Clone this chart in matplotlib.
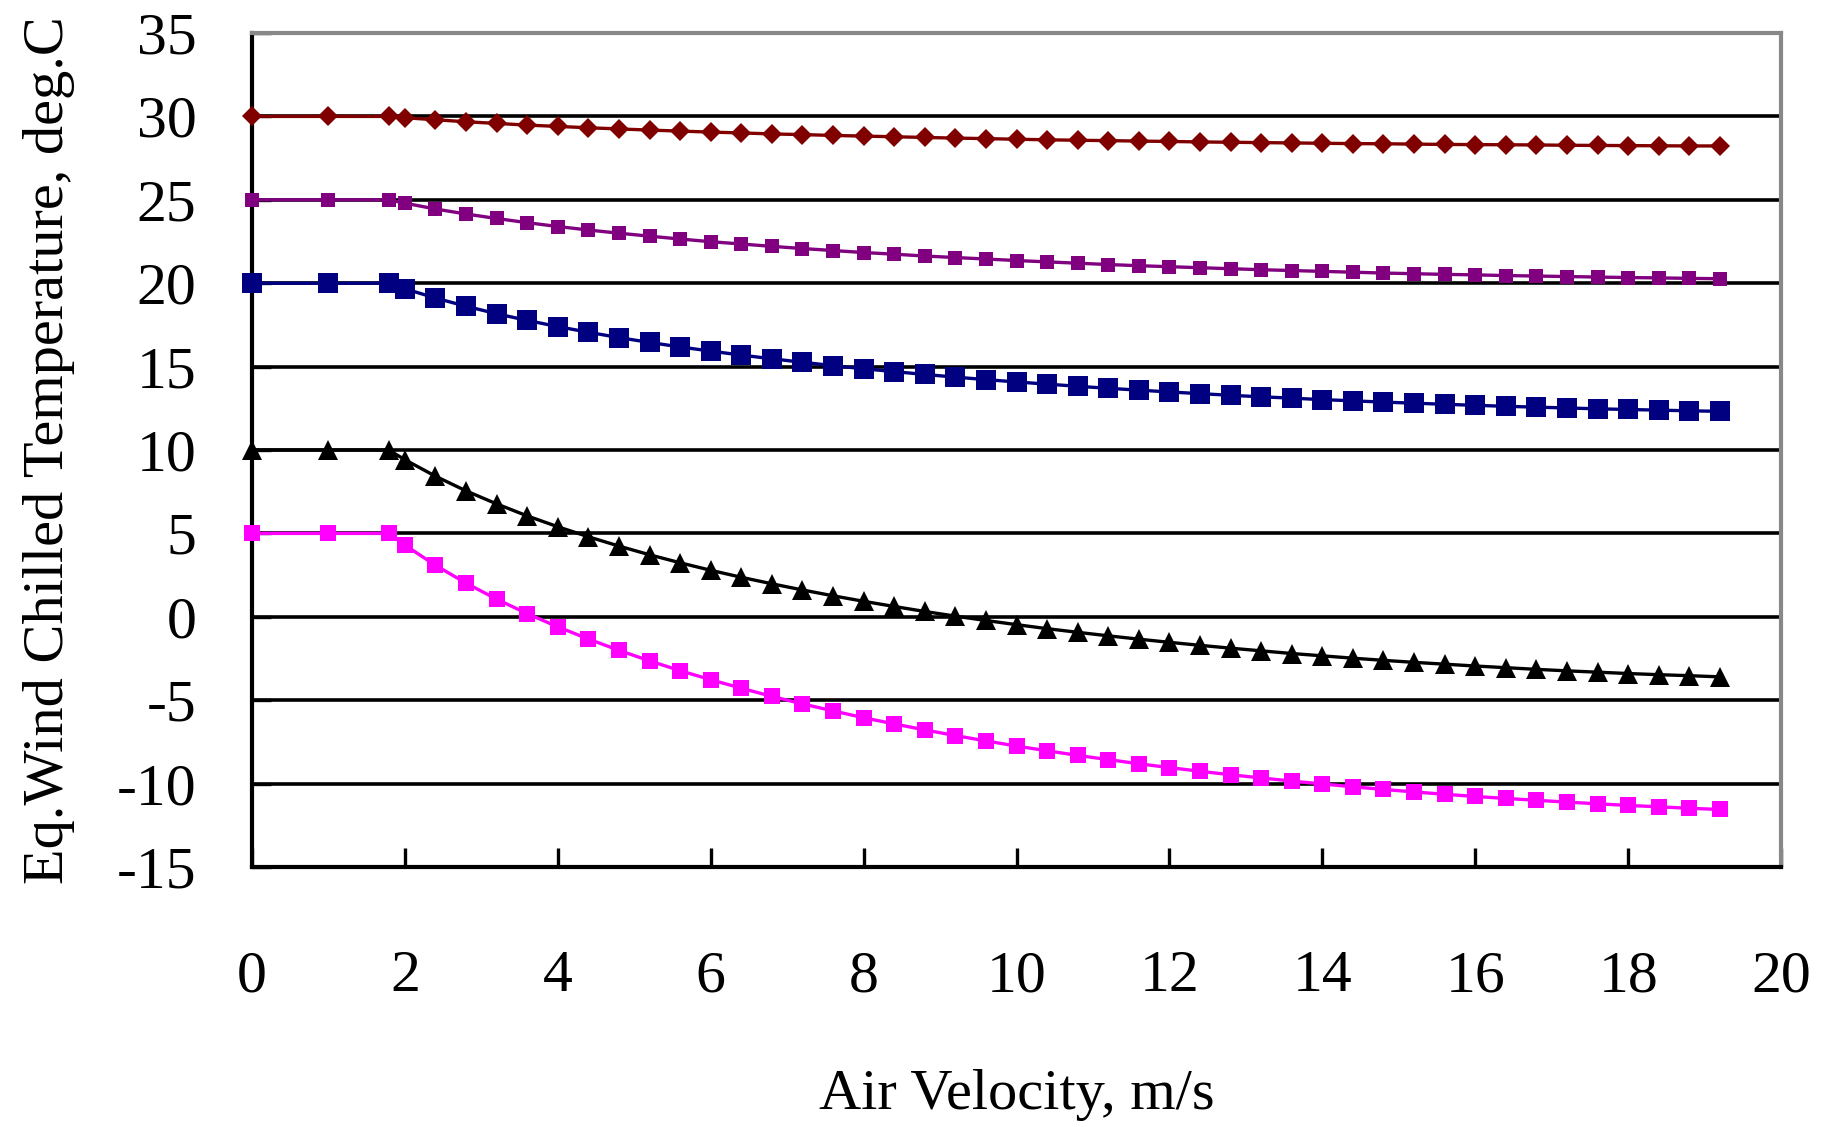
import matplotlib
matplotlib.use("Agg")
import matplotlib.pyplot as plt

plt.rcParams['font.family'] = ['Liberation Serif', 'DejaVu Sans']
plt.rcParams['axes.unicode_minus'] = False

# air velocity, m/s
velocity = [0, 1, 1.79, 2.0, 2.4, 2.8, 3.2, 3.6, 4.0, 4.4, 4.8, 5.2, 5.6, 6.0,
            6.4, 6.8, 7.2, 7.6, 8.0, 8.4, 8.8, 9.2, 9.6, 10.0, 10.4, 10.8,
            11.2, 11.6, 12.0, 12.4, 12.8, 13.2, 13.6, 14.0, 14.4, 14.8, 15.2,
            15.6, 16.0, 16.4, 16.8, 17.2, 17.6, 18.0, 18.4, 18.8, 19.2]

# equivalent wind chilled temperature for each air temperature, deg C
t30 = [30.0, 30.0, 30.0, 29.92, 29.80, 29.68, 29.58, 29.48, 29.40, 29.32,
       29.25, 29.18, 29.12, 29.06, 29.01, 28.95, 28.91, 28.86, 28.82, 28.78,
       28.74, 28.70, 28.67, 28.63, 28.60, 28.57, 28.55, 28.52, 28.50, 28.47,
       28.45, 28.43, 28.41, 28.39, 28.37, 28.36, 28.34, 28.32, 28.31, 28.30,
       28.29, 28.27, 28.26, 28.25, 28.24, 28.23, 28.23]
t25 = [25.0, 25.0, 25.0, 24.80, 24.45, 24.15, 23.88, 23.63, 23.40, 23.19,
       23.00, 22.82, 22.65, 22.49, 22.35, 22.21, 22.08, 21.96, 21.84, 21.74,
       21.63, 21.54, 21.45, 21.36, 21.28, 21.20, 21.12, 21.05, 20.99, 20.93,
       20.87, 20.81, 20.76, 20.71, 20.66, 20.61, 20.57, 20.53, 20.50, 20.46,
       20.43, 20.40, 20.37, 20.34, 20.32, 20.29, 20.27]
t20 = [20.0, 20.0, 20.0, 19.67, 19.11, 18.62, 18.17, 17.77, 17.40, 17.06,
       16.74, 16.45, 16.18, 15.93, 15.69, 15.47, 15.26, 15.06, 14.87, 14.70,
       14.53, 14.37, 14.22, 14.08, 13.95, 13.82, 13.70, 13.59, 13.48, 13.38,
       13.28, 13.19, 13.11, 13.02, 12.95, 12.87, 12.81, 12.74, 12.68, 12.62,
       12.57, 12.52, 12.47, 12.43, 12.39, 12.35, 12.32]
t10 = [10.0, 10.0, 10.0, 9.42, 8.43, 7.55, 6.77, 6.05, 5.40, 4.80,
       4.24, 3.72, 3.24, 2.79, 2.37, 1.98, 1.61, 1.26, 0.93, 0.62,
       0.32, 0.04, -0.22, -0.47, -0.71, -0.93, -1.14, -1.34, -1.53, -1.71,
       -1.88, -2.04, -2.20, -2.34, -2.48, -2.61, -2.73, -2.84, -2.95, -3.05,
       -3.15, -3.24, -3.32, -3.40, -3.47, -3.53, -3.60]
t5 = [5.0, 5.0, 5.0, 4.30, 3.09, 2.02, 1.06, 0.19, -0.60, -1.33,
      -2.01, -2.64, -3.23, -3.77, -4.28, -4.77, -5.22, -5.64, -6.05, -6.42,
      -6.78, -7.12, -7.44, -7.75, -8.03, -8.31, -8.56, -8.81, -9.04, -9.26,
      -9.47, -9.66, -9.85, -10.02, -10.19, -10.35, -10.50, -10.64, -10.77, -10.89,
      -11.00, -11.11, -11.21, -11.31, -11.39, -11.48, -11.55]

x_ticks = [0, 2, 4, 6, 8, 10, 12, 14, 16, 18, 20]
y_ticks = [-15, -10, -5, 0, 5, 10, 15, 20, 25, 30, 35]

fig = plt.figure(figsize=(18.23, 11.27), dpi=100)
ax = fig.add_axes([0.1382, 0.2307, 0.9770 - 0.1382, 0.9707 - 0.2307])

# horizontal grid
for y in y_ticks[1:-1]:
    ax.axhline(y, color='black', lw=2.6, zorder=1)

styles = [
    (t30, '#800000', 'D', 10.0),
    (t25, '#800080', 's', 10.0),
    (t20, '#000080', 's', 15.0),
    (t10, '#000000', '^', 14.0),
    (t5, '#FF00FF', 's', 12.0),
]
for ys, c, m, ms in styles:
    ax.plot(velocity, ys, color=c, lw=2.4, marker=m, markersize=ms,
            markeredgewidth=0, zorder=4, clip_on=False)

ax.set_xlim(0, 20)
ax.set_ylim(-15, 35)
ax.set_xticks(x_ticks)
ax.set_yticks(y_ticks)

for side in ['left', 'bottom']:
    ax.spines[side].set_color('black')
    ax.spines[side].set_linewidth(3.0)
for side in ['top', 'right']:
    ax.spines[side].set_color('#888888')
    ax.spines[side].set_linewidth(3.0)

ax.tick_params(axis='both', direction='in', length=14, width=2.4,
               color='black', labelsize=43)
ax.tick_params(axis='x', pad=60)
ax.tick_params(axis='y', pad=40)

ax.set_xlabel('Air Velocity, m/s', fontsize=42)
ax.set_ylabel('Eq.Wind Chilled Temperature, deg.C', fontsize=42)
ax.xaxis.set_label_coords(0.5, -0.242)
ax.yaxis.set_label_coords(-0.116, 0.5)

plt.savefig('out.png', dpi=100)
